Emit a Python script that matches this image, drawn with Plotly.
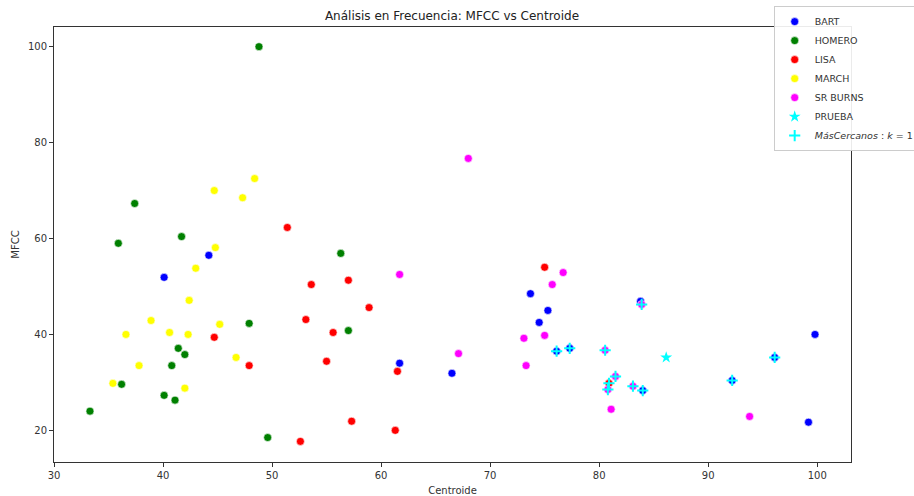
import plotly.graph_objects as go

bart_x = [40.1, 44.2, 73.7, 75.3, 74.5, 76.1, 77.3, 61.7, 66.5, 83.8, 84.0, 92.2, 96.1, 99.8, 99.2]
bart_y = [51.9, 56.5, 48.5, 45.0, 42.5, 36.5, 37.1, 34.0, 31.9, 46.9, 28.3, 30.4, 35.2, 40.0, 21.7]

homero_x = [48.8, 37.4, 41.7, 35.9, 47.9, 41.4, 42.0, 40.8, 36.2, 40.1, 41.1, 33.3, 49.6, 56.3, 57.0]
homero_y = [100.0, 67.3, 60.4, 59.0, 42.3, 37.1, 35.8, 33.5, 29.6, 27.3, 26.3, 24.0, 18.5, 56.9, 40.8]

lisa_x = [51.4, 53.6, 57.0, 58.9, 53.1, 55.6, 55.0, 61.5, 57.3, 61.3, 52.6, 75.0, 44.7, 47.9, 80.9]
lisa_y = [62.3, 50.4, 51.3, 45.6, 43.1, 40.4, 34.4, 32.3, 21.9, 20.0, 17.7, 54.0, 39.4, 33.5, 29.8]

march_x = [44.7, 48.4, 47.3, 44.8, 43.0, 42.4, 38.9, 36.6, 40.6, 42.3, 45.2, 46.7, 37.8, 35.4, 42.0]
march_y = [70.0, 72.5, 68.5, 58.1, 53.8, 47.1, 42.9, 40.0, 40.4, 40.0, 42.1, 35.2, 33.5, 29.8, 28.8]

burns_x = [68.0, 61.7, 67.1, 73.1, 73.3, 75.0, 75.7, 76.7, 80.55, 81.5, 80.8, 83.1, 83.9, 81.1, 93.8]
burns_y = [76.7, 52.5, 36.0, 39.2, 33.5, 39.8, 50.4, 52.9, 36.7, 31.25, 28.5, 29.2, 46.25, 24.4, 22.9]

prueba_x = [86.15]
prueba_y = [35.2]

near_x = [76.1, 77.3, 80.55, 81.5, 80.9, 80.8, 83.1, 84.0, 83.9, 92.2, 96.1]
near_y = [36.5, 37.1, 36.7, 31.25, 29.8, 28.5, 29.2, 28.3, 46.25, 30.4, 35.2]

fig = go.Figure()
groups = [
    ("BART", bart_x, bart_y, "#0000ff"),
    ("HOMERO", homero_x, homero_y, "#008000"),
    ("LISA", lisa_x, lisa_y, "#ff0000"),
    ("MARCH", march_x, march_y, "#ffff00"),
    ("SR BURNS", burns_x, burns_y, "#ff00ff"),
]
for name, xs, ys, col in groups:
    fig.add_trace(go.Scatter(x=xs, y=ys, mode="markers", name=name,
                             marker=dict(color=col, size=8, line=dict(width=0.6, color="white"))))
fig.add_trace(go.Scatter(x=prueba_x, y=prueba_y, mode="markers", name="PRUEBA",
                         marker=dict(color="#00ffff", symbol="star", size=9, line=dict(width=0))))
fig.add_trace(go.Scatter(x=near_x, y=near_y, mode="markers",
                         name="<i>MásCercanos</i> : <i>k</i> = 1",
                         marker=dict(color="#00ffff", symbol="cross-thin", size=8,
                                     line=dict(width=2, color="#00ffff"))))

axis_common = dict(showline=True, linecolor="#333333", linewidth=1, mirror=True,
                   ticks="outside", ticklen=4, tickcolor="#333333", showgrid=False,
                   zeroline=False, tickfont=dict(size=10, color="#333333"))
fig.update_xaxes(range=[30, 103.1], tickvals=[30, 40, 50, 60, 70, 80, 90, 100],
                 title=dict(text="Centroide", font=dict(size=10, color="#333333"), standoff=6),
                 **axis_common)
fig.update_yaxes(range=[13.4, 104.1], tickvals=[20, 40, 60, 80, 100],
                 title=dict(text="MFCC", font=dict(size=10, color="#333333"), standoff=6),
                 **axis_common)

fig.update_layout(
    width=914, height=496,
    margin=dict(l=54, r=63, t=27, b=34, autoexpand=False),
    paper_bgcolor="white", plot_bgcolor="white",
    font=dict(family="DejaVu Sans", color="#333333"),
    title=dict(text="Análisis en Frecuencia: MFCC vs Centroide", x=0.4945, xanchor="center",
               y=0.968, yanchor="middle", font=dict(size=12, color="#222222")),
    legend=dict(x=0.903, y=1.048, xanchor="left", yanchor="top",
                bgcolor="rgba(255,255,255,0.9)", bordercolor="#cccccc", borderwidth=1,
                font=dict(size=9.5, color="#333333"), tracegroupgap=0, itemwidth=30),
    showlegend=True,
)

fig.write_html("out.html")
